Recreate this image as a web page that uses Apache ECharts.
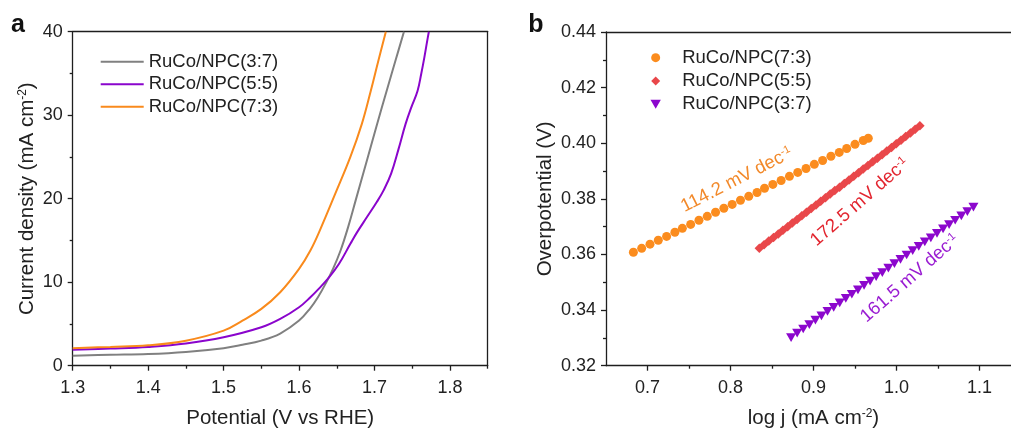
<!DOCTYPE html>
<html><head><meta charset="utf-8">
<script src="https://cdn.jsdelivr.net/npm/echarts@6/dist/echarts.min.js"></script>
<style>html,body{margin:0;padding:0;background:#fff}#main{width:1011px;height:437px}</style>
</head><body><div id="main"></div>
<script>
// ---------- DATA ----------
// Panel a: LSV curves (potential V vs RHE, current density mA cm-2)
const lsvNames = ['RuCo/NPC(3:7)', 'RuCo/NPC(5:5)', 'RuCo/NPC(7:3)'];
const lsv37X = [1.30,1.35,1.40,1.45,1.50,1.525,1.55,1.575,1.60,1.615,1.625,1.635,1.645,1.655,1.665,1.675,1.69,1.703,1.717,1.728,1.739];
const lsv37Y = [1.2,1.3,1.4,1.65,2.1,2.5,3.0,3.85,5.4,6.9,8.2,9.8,11.6,13.8,16.6,19.8,24.6,28.8,33.2,36.6,40.0];
const lsv55X = [1.30,1.35,1.40,1.45,1.50,1.55,1.575,1.60,1.615,1.626,1.64,1.653,1.668,1.677,1.690,1.703,1.712,1.722,1.732,1.741,1.749,1.757,1.762,1.766,1.770,1.772];
const lsv55Y = [1.9,2.05,2.25,2.65,3.4,4.6,5.6,7.0,8.2,9.2,10.6,12.2,14.6,16.0,17.8,19.6,21.0,23.0,26.0,28.9,31.0,32.9,35.0,36.9,39.0,40.0];
const lsv73X = [1.30,1.35,1.40,1.45,1.50,1.525,1.55,1.575,1.60,1.615,1.628,1.648,1.668,1.683,1.695,1.705,1.715];
const lsv73Y = [2.1,2.25,2.45,3.0,4.2,5.4,6.8,8.8,11.6,13.8,16.3,20.6,25.0,28.9,32.9,36.5,40.0];

// Panel b: Tafel plots (log j, overpotential V)
const tafelNames = ['RuCo/NPC(7:3)', 'RuCo/NPC(5:5)', 'RuCo/NPC(3:7)'];
const tafel73X = [0.683,0.693,0.703,0.713,0.723,0.733,0.742,0.752,0.762,0.772,0.782,0.792,0.802,0.812,0.822,0.832,0.841,0.851,0.861,0.871,0.881,0.891,0.901,0.911,0.921,0.931,0.940,0.950,0.960,0.966];
const tafel73Y = [0.3608,0.3622,0.3637,0.3651,0.3665,0.3680,0.3694,0.3708,0.3723,0.3737,0.3752,0.3766,0.3780,0.3795,0.3809,0.3823,0.3838,0.3852,0.3866,0.3881,0.3895,0.3909,0.3924,0.3938,0.3953,0.3967,0.3981,0.3996,0.4010,0.4018];
const tafel55X = [0.8347,0.8404,0.8461,0.8518,0.8575,0.8632,0.8688,0.8745,0.8802,0.8859,0.8916,0.8973,0.9030,0.9087,0.9144,0.9201,0.9257,0.9314,0.9371,0.9428,0.9485,0.9542,0.9599,0.9656,0.9713,0.9770,0.9826,0.9883,0.9940,0.9997,1.0054,1.0111,1.0168,1.0225,1.0282];
const tafel55Y = [0.3622,0.3635,0.3648,0.3661,0.3674,0.3687,0.3700,0.3713,0.3726,0.3739,0.3752,0.3765,0.3778,0.3791,0.3804,0.3817,0.3830,0.3842,0.3855,0.3868,0.3881,0.3894,0.3907,0.3920,0.3933,0.3946,0.3959,0.3972,0.3985,0.3998,0.4011,0.4024,0.4037,0.4050,0.4063];
const tafel37X = [0.8730,0.8803,0.8876,0.8950,0.9023,0.9096,0.9169,0.9243,0.9316,0.9389,0.9462,0.9536,0.9609,0.9682,0.9755,0.9829,0.9902,0.9975,1.0048,1.0122,1.0195,1.0268,1.0341,1.0414,1.0488,1.0561,1.0634,1.0707,1.0781,1.0854,1.0927];
const tafel37Y = [0.3301,0.3317,0.3332,0.3348,0.3364,0.3379,0.3395,0.3410,0.3426,0.3442,0.3457,0.3473,0.3489,0.3504,0.3520,0.3535,0.3551,0.3567,0.3582,0.3598,0.3614,0.3629,0.3645,0.3660,0.3676,0.3692,0.3707,0.3723,0.3739,0.3754,0.3770];
const tafelSlopes = ['114.2', '172.5', '161.5'];

// Tick values
const xTicksA = [1.3,1.4,1.5,1.6,1.7,1.8];
const xMinorA = [1.35,1.45,1.55,1.65,1.75,1.85];
const yTicksA = [0,10,20,30,40];
const yMinorA = [5,15,25,35];
const xTicksB = [0.7,0.8,0.9,1.0,1.1];
const xMinorB = [0.75,0.85,0.95,1.05];
const yTicksB = [0.32,0.34,0.36,0.38,0.40,0.42,0.44];
const yMinorB = [0.33,0.35,0.37,0.39,0.41,0.43];

// ---------- STYLE / LAYOUT ----------
const FONT = '"Liberation Sans", Arial, sans-serif';
const AX = '#1e1e1e';
const TXT = '#222';
const zip = (xs, ys) => xs.map((x, i) => [x, ys[i]]);
const lineCol = ['#808080', '#8A05CC', '#F98A1C'];
const scatCol = ['#FB8C1E', '#E9474A', '#8C07CD'];
const annotCol = ['#F2892A', '#E2252F', '#9A1DD2'];
const LINE_ICON = 'path://M0 0H43V2H0Z';
const DIAMOND = 'path://M5 0L10 5L5 10L0 5Z';
const TRI_DOWN = 'path://M0 0H10L5 8.7Z';

const gA = { left: 72.7, top: 31.7, width: 415, height: 334 };
const gB = { left: 606, top: 32, width: 415, height: 333.7 };

function mainX(grid, min, max, ticks, dec, name) {
  return {
    type: 'value', gridIndex: grid, position: 'bottom', min, max,
    axisLine: { show: true, onZero: false, lineStyle: { color: AX, width: 1.3 } },
    axisTick: { show: true, customValues: ticks, length: 5, lineStyle: { color: AX, width: 1.3 } },
    axisLabel: { show: true, customValues: ticks, formatter: v => v.toFixed(dec), margin: 13, fontSize: 18, color: TXT, fontFamily: FONT },
    splitLine: { show: false },
    name, nameLocation: 'middle', nameGap: 42,
    nameTextStyle: { fontFamily: FONT, fontSize: 20.5, color: TXT,
      rich: { t: { fontSize: 20.5, color: TXT, fontFamily: FONT }, s: { fontSize: 12, color: TXT, fontFamily: FONT, verticalAlign: 'top' } } }
  };
}
function minorAxis(grid, pos, min, max, ticks) {
  return {
    type: 'value', gridIndex: grid, position: pos, min, max,
    axisLine: { show: false, onZero: false },
    axisTick: { show: true, customValues: ticks, length: 3, lineStyle: { color: AX, width: 1.3 } },
    axisLabel: { show: false }, splitLine: { show: false }
  };
}
function frameAxis(grid, pos, min, max) {
  return {
    type: 'value', gridIndex: grid, position: pos, min, max,
    axisLine: { show: true, onZero: false, lineStyle: { color: AX, width: 1.3 } },
    axisTick: { show: false }, axisLabel: { show: false }, splitLine: { show: false }
  };
}
function mainY(grid, min, max, ticks, dec, name, gap) {
  const a = mainX(grid, min, max, ticks, dec, name);
  a.position = 'left';
  a.nameGap = gap;
  a.axisLabel.margin = 10;
  return a;
}

const option = {
  animation: false,
  backgroundColor: '#fff',
  textStyle: { fontFamily: FONT },
  grid: [
    Object.assign({ outerBoundsMode: 'none', containLabel: false }, gA),
    Object.assign({ outerBoundsMode: 'none', containLabel: false }, gB)
  ],
  xAxis: [
    mainX(0, 1.3, 1.85, xTicksA, 1, '{t|Potential (V vs RHE)}'),
    minorAxis(0, 'bottom', 1.3, 1.85, xMinorA),
    frameAxis(0, 'top', 1.3, 1.85),
    mainX(1, 0.65, 1.15, xTicksB, 1, '{t|log j (mA cm}{s|-2}{t|)}'),
    minorAxis(1, 'bottom', 0.65, 1.15, xMinorB),
    frameAxis(1, 'top', 0.65, 1.15)
  ],
  yAxis: [
    mainY(0, 0, 40, yTicksA, 0, '{t|Current density (mA cm}{s|-2}{t|)}', 35),
    minorAxis(0, 'left', 0, 40, yMinorA),
    frameAxis(0, 'right', 0, 40),
    mainY(1, 0.32, 0.44, yTicksB, 2, '{t|Overpotential (V)}', 50),
    minorAxis(1, 'left', 0.32, 0.44, yMinorB)
  ],
  legend: [
    {
      left: 100.7, top: 50.5, padding: 0, orient: 'vertical', itemWidth: 43, itemHeight: 14, itemGap: 0,
      data: lsvNames.map(n => ({ name: n, icon: LINE_ICON })), selectedMode: false,
      textStyle: { fontSize: 18.5, color: TXT, fontFamily: FONT, lineHeight: 22.5 }
    },
    {
      left: 650.5, top: 46, padding: 0, orient: 'vertical', itemWidth: 43, itemHeight: 9, itemGap: 0,
      symbolKeepAspect: true,
      data: [
        { name: tafelNames[0] + ' ', icon: 'circle' },
        { name: tafelNames[1] + ' ', icon: DIAMOND },
        { name: tafelNames[2] + ' ', icon: TRI_DOWN }
      ],
      selectedMode: false,
      formatter: n => n.trim(),
      textStyle: { fontSize: 18.5, color: TXT, fontFamily: FONT, lineHeight: 23.3 }
    }
  ],
  series: [
    { name: lsvNames[0], type: 'line', xAxisIndex: 0, yAxisIndex: 0, data: zip(lsv37X, lsv37Y), symbol: 'none', smooth: 0.4, lineStyle: { width: 2, color: lineCol[0] }, itemStyle: { color: lineCol[0] } },
    { name: lsvNames[1], type: 'line', xAxisIndex: 0, yAxisIndex: 0, data: zip(lsv55X, lsv55Y), symbol: 'none', smooth: 0.4, lineStyle: { width: 2, color: lineCol[1] }, itemStyle: { color: lineCol[1] } },
    { name: lsvNames[2], type: 'line', xAxisIndex: 0, yAxisIndex: 0, data: zip(lsv73X, lsv73Y), symbol: 'none', smooth: 0.4, lineStyle: { width: 2, color: lineCol[2] }, itemStyle: { color: lineCol[2] } },
    { name: tafelNames[0] + ' ', type: 'scatter', xAxisIndex: 3, yAxisIndex: 3, data: zip(tafel73X, tafel73Y), symbol: 'circle', symbolSize: 9, itemStyle: { color: scatCol[0], opacity: 1 } },
    { name: tafelNames[1] + ' ', type: 'scatter', xAxisIndex: 3, yAxisIndex: 3, data: zip(tafel55X, tafel55Y), symbol: DIAMOND, symbolSize: 9.5, itemStyle: { color: scatCol[1], opacity: 1 } },
    { name: tafelNames[2] + ' ', type: 'scatter', xAxisIndex: 3, yAxisIndex: 3, data: zip(tafel37X, tafel37Y), symbol: TRI_DOWN, symbolSize: [10, 8.7], itemStyle: { color: scatCol[2], opacity: 1 } }
  ]
};

const chart = echarts.init(document.getElementById('main'), null, { renderer: 'canvas' });
chart.setOption(option);

// Annotation anchors (layout, in data coordinates of panel b)
const annotAt = [[0.8075, 0.3868, 27], [0.956, 0.3788, 41], [1.0163, 0.3514, 41]];
const graphics = [
  { type: 'text', x: 18, y: 25, style: { text: 'a', font: 'bold 25px ' + FONT, fill: '#111', align: 'center', verticalAlign: 'middle' } },
  { type: 'text', x: 536, y: 25, style: { text: 'b', font: 'bold 25px ' + FONT, fill: '#111', align: 'center', verticalAlign: 'middle' } }
];
annotAt.forEach((a, i) => {
  const p = chart.convertToPixel({ gridIndex: 1 }, [a[0], a[1]]);
  graphics.push({
    type: 'text', x: p[0], y: p[1], rotation: a[2] * Math.PI / 180,
    style: {
      text: '{m|' + tafelSlopes[i] + ' mV dec}{s|-1}',
      align: 'center', verticalAlign: 'middle',
      rich: {
        m: { fontSize: 18.5, fontFamily: FONT, fill: annotCol[i] },
        s: { fontSize: 11, fontFamily: FONT, fill: annotCol[i], verticalAlign: 'top' }
      }
    }
  });
});
chart.setOption({ graphic: graphics });
</script>
</body></html>
